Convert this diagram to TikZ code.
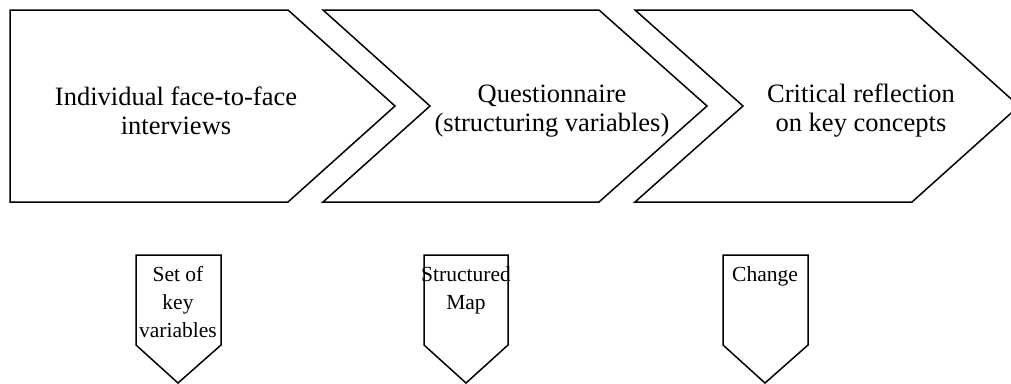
\documentclass[tikz,border=0pt]{standalone}
\usepackage{fontspec}
\setmainfont{Liberation Serif}
\tikzset{
  stage/.style={draw, line width=1.5pt, line join=miter},
  stagetext/.style={align=center, font=\fontsize{26.5}{29}\selectfont},
  outtext/.style={align=center, anchor=north, inner sep=0pt, font=\fontsize{21.5}{28}\selectfont}
}
\begin{document}
\begin{tikzpicture}[x=1pt, y=-1pt]
  \useasboundingbox (0,0) rectangle (1011,383);
  % process stages
  \draw[stage] (10,10) -- (288,10) -- (395,106) -- (288,202) -- (10,202) -- cycle;
  \draw[stage] (323,10) -- (599,10) -- (707,106) -- (599,202) -- (323,202) -- (430,106) -- cycle;
  \draw[stage] (635,10) -- (912,10) -- (1019,106) -- (912,202) -- (635,202) -- (743,106) -- cycle;
  \node[stagetext] (interviews) at (176,111) {Individual face-to-face\\interviews};
  \node[stagetext] (questionnaire) at (552,111) {Questionnaire\\(structuring variables)};
  \node[stagetext] (reflection) at (861,111) {Critical reflection\\on key concepts};
  % outputs
  \draw[stage] (136,255) -- (221,255) -- (221,345) -- (178,383) -- (136,345) -- cycle;
  \draw[stage] (424,255) -- (508,255) -- (508,345) -- (466,383) -- (424,345) -- cycle;
  \draw[stage] (723,255) -- (808,255) -- (808,345) -- (765,383) -- (723,345) -- cycle;
  \node[outtext] (keyvars) at (178,266) {Set of\\key\\variables};
  \node[outtext] (map) at (466,266) {Structured\\Map};
  \node[outtext] (change) at (765,266) {Change};
\end{tikzpicture}
\end{document}
